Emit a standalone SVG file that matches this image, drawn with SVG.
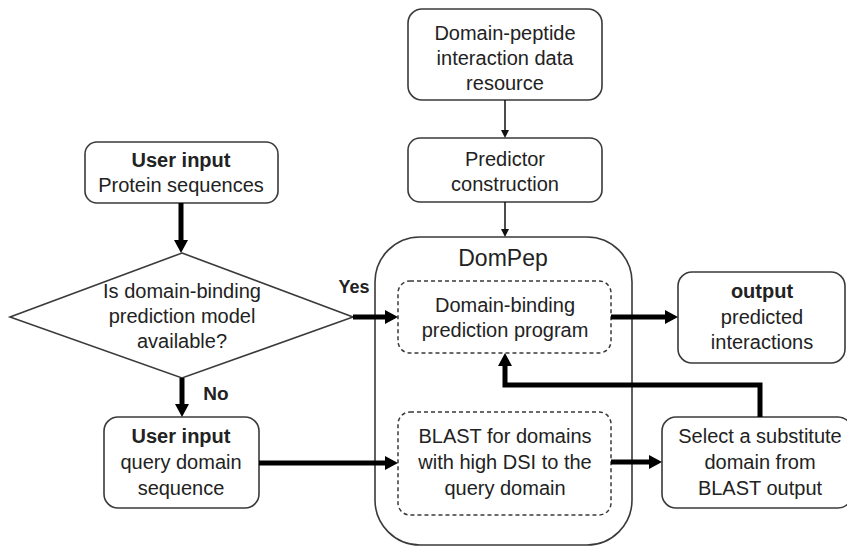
<svg xmlns="http://www.w3.org/2000/svg" width="847" height="546" viewBox="0 0 847 546">
<defs>
<marker id="thick" markerUnits="userSpaceOnUse" markerWidth="13" markerHeight="14" refX="6" refY="7" orient="auto">
<path d="M0,0 L13,7 L0,14 z" fill="#000"/>
</marker>
<marker id="thin" markerUnits="userSpaceOnUse" markerWidth="8" markerHeight="8" refX="4" refY="4" orient="auto">
<path d="M0,0 L8,4 L0,8 z" fill="#111"/>
</marker>
</defs>
<style>
.box{fill:#fff;stroke:#3a3a3a;stroke-width:1.6}
.dash{fill:none;stroke:#3a3a3a;stroke-width:1.5;stroke-dasharray:4,3}
text{font-family:"Liberation Sans",Arial,sans-serif;font-size:20px;fill:#222;text-anchor:middle}
.b{font-weight:bold}
.thk{stroke:#000;stroke-width:5;fill:none;marker-end:url(#thick)}
.thn{stroke:#111;stroke-width:1.5;fill:none;marker-end:url(#thin)}
</style>
<rect width="847" height="546" fill="#fff"/>
<g id="resource">
<rect class="box" x="408" y="9" width="194" height="91" rx="14"/>
<text x="505" y="40">Domain-peptide</text>
<text x="505" y="65">interaction data</text>
<text x="505" y="90">resource</text>
</g>
<g id="predictor">
<rect class="box" x="408" y="138" width="194" height="64" rx="12"/>
<text x="505" y="166">Predictor</text>
<text x="505" y="191">construction</text>
</g>
<g id="dompep">
<rect class="box" x="375" y="237" width="257" height="308" rx="45"/>
<text x="503" y="266" style="font-size:23px;word-spacing:2px">DomPep</text>
</g>
<g id="prediction">
<rect class="dash" x="398" y="281" width="213" height="72" rx="12"/>
<text x="505" y="312">Domain-binding</text>
<text x="505" y="337">prediction program</text>
</g>
<g id="blast">
<rect class="dash" x="398" y="412" width="213" height="103" rx="12"/>
<text x="505" y="443">BLAST for domains</text>
<text x="505" y="469">with high DSI to the</text>
<text x="505" y="495">query domain</text>
</g>
<g id="output">
<rect class="box" x="678" y="272" width="167" height="91" rx="14"/>
<text x="762" y="298" class="b">output</text>
<text x="762" y="324">predicted</text>
<text x="762" y="349">interactions</text>
</g>
<g id="select">
<rect class="box" x="662" y="417" width="190" height="91" rx="14"/>
<text x="760" y="443">Select a substitute</text>
<text x="760" y="469">domain from</text>
<text x="760" y="495">BLAST output</text>
</g>
<g id="userinput1">
<rect class="box" x="85" y="142" width="193" height="61" rx="12"/>
<text x="181" y="167" class="b">User input</text>
<text x="181" y="192">Protein sequences</text>
</g>
<g id="decision">
<polygon class="box" points="182,253 353,317 182,378 10,317"/>
<text x="182" y="298">Is domain-binding</text>
<text x="182" y="323">prediction model</text>
<text x="182" y="348">available?</text>
</g>
<g id="userinput2">
<rect class="box" x="104" y="417" width="155" height="91" rx="14"/>
<text x="181" y="443" class="b">User input</text>
<text x="181" y="469">query domain</text>
<text x="181" y="495">sequence</text>
</g>
<g id="connectors">
<line class="thn" x1="505" y1="100" x2="505" y2="134"/>
<line class="thn" x1="505" y1="202" x2="505" y2="233"/>
<line class="thk" x1="181" y1="203" x2="181" y2="246"/>
<line class="thk" x1="182" y1="378" x2="182" y2="410"/>
<line class="thk" x1="353" y1="317" x2="391" y2="317"/>
<line class="thk" x1="259" y1="463" x2="391" y2="463"/>
<line class="thk" x1="611" y1="317" x2="671" y2="317"/>
<line class="thk" x1="611" y1="462" x2="655" y2="462"/>
<polyline class="thk" points="760,417 760,385 505,385 505,360"/>
<text x="354" y="293" class="b" style="font-size:18px">Yes</text>
<text x="216" y="400" class="b" style="font-size:19px">No</text>
</g>
</svg>
